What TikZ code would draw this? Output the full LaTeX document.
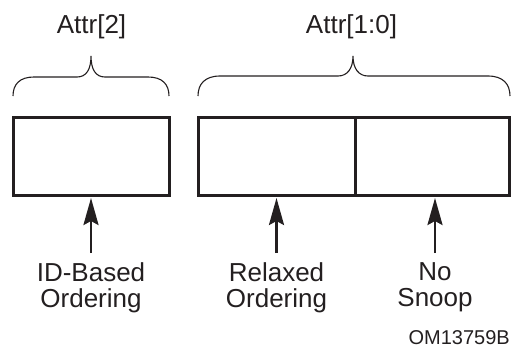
\documentclass[tikz,border=0pt]{standalone}
\usepackage{fontspec}
\setmainfont{Liberation Sans}
\usetikzlibrary{arrows.meta}
\definecolor{ink}{HTML}{231F20}
\begin{document}
\begin{tikzpicture}[x=1pt,y=-1pt,
 fld/.style={draw=ink, line width=3pt, minimum height=78pt, inner sep=0pt, outer sep=0pt},
 lbl/.style={text=ink, font=\fontsize{26}{26}\selectfont, align=center, inner sep=0pt, anchor=north},
 ttl/.style={text=ink, font=\fontsize{26}{26}\selectfont, inner sep=0pt, anchor=base},
 brc/.style={draw=ink, line width=1.1pt},
 arr/.style={draw=ink, line width=2.6pt, -{Stealth[length=27pt,width=15pt,inset=4pt]}, shorten <=9pt, shorten >=3pt}]
\useasboundingbox (0,0) rectangle (512,348);
% fields
\node[fld, minimum width=156pt] (b1) at (91,156) {};
\node[fld, minimum width=157pt] (b2a) at (276.5,156) {};
\node[fld, minimum width=154pt] (b2b) at (432,156) {};
% titles
\node[ttl] (t2) at (91.5,33) {Attr[2]};
\node[ttl] (t10) at (351.5,33) {Attr[1:0]};
% braces
\draw[brc] (13,96) .. controls (13,84) and (20,77) .. (34,77) -- (77,77) .. controls (86,77) and (91,70) .. (91,56) .. controls (91,70) and (96,77) .. (105,77) -- (148,77) .. controls (162,77) and (169,84) .. (169,96);
\draw[brc] (198,96) .. controls (198,84) and (205,76) .. (220,76) -- (338,76) .. controls (347,76) and (353,69) .. (353,56) .. controls (353,69) and (359,76) .. (368,76) -- (488,76) .. controls (503,76) and (510,84) .. (510,96);
% labels
\node[lbl] (idl) at (91,262) {ID-Based\\Ordering};
\node[lbl] (rol) at (276.5,262) {Relaxed\\Ordering};
\node[lbl] (nsl) at (435,262) {No\\Snoop};
% arrows
\draw[arr] (idl.north) -- (idl.north |- b1.south);
\draw[arr] (rol.north) -- (rol.north |- b2a.south);
\draw[arr] (nsl.north) -- (nsl.north |- b2b.south);
% figure id
\node[text=ink, font=\fontsize{20}{20}\selectfont, inner sep=0pt, anchor=base east] (om) at (510,344) {OM13759B};
\end{tikzpicture}
\end{document}
